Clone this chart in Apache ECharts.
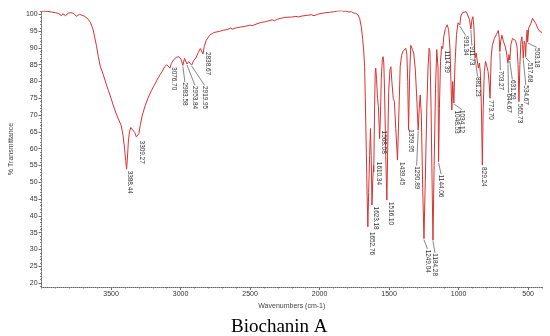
<!DOCTYPE html>
<html>
<head>
<meta charset="utf-8">
<script src="https://cdn.jsdelivr.net/npm/echarts@6/dist/echarts.min.js"></script>
<style>
html,body{margin:0;padding:0;background:#fff;}
#chart{width:550px;height:336px;}
</style>
</head>
<body>
<div id="chart"></div>
<script>
// Spectrum: wavenumber (cm-1) and % transmittance
const wavenumbers = [4000,3960,3930,3900,3880,3866,3856,3848,3836,3828,3818,3806,3790,3770,3756,3749,3740,3728,3713,3699,3690,3678,3663,3649,3638,3628,3617,3606,3592,3578,3556,3538,3520,3500,3485,3465,3449,3428,3414,3403,3395,3388.44,3382,3376,3368,3358,3345,3330,3318,3309.27,3300,3290,3275,3255,3235,3210,3190,3165,3145,3130,3115,3100,3088,3076.70,3066,3050,3030,3012,2997,2983.58,2972,2962,2953.84,2942,2930,2919.95,2905,2890,2872,2858,2847,2838.67,2830,2815,2790,2760,2723,2690,2660,2640,2625,2607,2570,2530,2500,2485,2450,2420,2390,2366,2340,2325,2300,2250,2200,2170,2150,2128,2090,2060,2040,2009,1970,1930,1893,1870,1860,1842,1825,1810,1790,1771,1755,1740,1723,1712,1700,1690,1683,1676,1671,1664,1658,1652.76,1647,1640,1634,1629,1623.18,1617,1612,1610.34,1605,1600,1596,1590,1583,1577,1568.08,1562,1556,1549,1543,1538,1532,1524,1516.10,1510,1503,1494,1487,1480,1470,1462,1452,1439.45,1430,1420,1410,1400,1390,1380,1372,1366,1359.95,1352,1344,1335,1323,1312,1302,1290.89,1283,1276,1268,1258,1249.04,1240,1228,1220,1212,1206,1198,1190,1184.28,1176,1166,1157,1152,1148,1144.06,1138,1130,1122,1114.39,1106,1095,1082,1072,1062,1055,1048.53,1042,1034.12,1026,1015,1004,998,991.34,984,972,958,945,932,922,916,911.73,905,897,890,884,881.23,874,866,858,850,842,835,829.24,823,815,806,797,788,780,773.70,766,757,743,728,714,708,703.27,697,688,678,665,655,648,644.67,638,631.59,624,612,600,590,580,572,565.73,559,552,545,540,534.67,528,522,517.68,512,507,503.18,495,480,468,458,445,430,415,400];
const transmittance = [101.0,100.9,100.7,100.5,100.3,100.0,99.6,100.2,100.1,99.6,100.1,100.4,100.5,100.3,100.1,99.4,99.9,100.0,99.8,99.6,99.4,99.1,98.5,97.6,96.5,95.2,93.0,90.8,87.5,84.6,82.0,79.6,77.4,75.0,73.0,70.6,69.0,67.0,64.0,60.0,56.5,53.9,57.5,62.0,65.0,66.3,66.0,64.8,63.5,63.0,64.5,67.0,70.0,72.8,75.0,77.3,78.8,80.8,82.2,83.2,84.4,85.0,84.8,84.0,85.4,86.5,87.2,87.4,86.6,84.8,86.9,86.4,85.2,85.9,85.7,84.9,86.3,87.0,88.7,89.8,89.4,88.2,90.4,92.3,93.8,94.6,94.9,95.3,95.5,95.9,95.6,95.9,96.2,96.5,96.8,96.6,97.2,97.6,97.8,98.1,98.4,98.1,98.6,99.1,99.2,99.4,99.2,99.5,99.7,99.9,99.6,100.1,100.4,100.6,100.8,101.0,100.7,101.1,100.9,101.0,100.7,100.8,100.4,100.3,99.8,98.8,96.3,92.5,89.4,84.4,74.5,59.6,46.0,36.7,47.0,58.0,66.0,58.0,43.2,51.0,55.0,53.1,70.0,82.5,84.0,80.5,75.0,72.5,63.0,70.0,81.0,86.5,87.4,85.5,76.0,58.0,44.7,60.0,77.0,83.5,84.4,80.0,75.0,74.0,66.0,56.6,70.0,84.5,87.8,89.0,89.5,89.9,88.0,80.0,65.5,82.0,90.8,90.3,88.5,84.0,76.0,65.5,72.0,76.0,70.0,48.0,33.2,50.0,73.0,84.0,89.9,89.0,72.0,48.0,32.7,55.0,78.0,89.5,89.9,84.0,56.1,72.0,86.0,90.5,89.8,93.5,95.8,96.9,95.5,90.0,80.0,71.5,80.0,73.6,85.0,94.0,97.5,98.0,96.8,99.5,100.5,100.9,100.8,100.3,98.5,96.8,95.6,98.2,99.3,96.5,89.0,87.0,88.5,88.0,84.0,85.5,82.0,70.0,55.1,72.0,83.0,86.0,85.5,83.0,79.5,75.0,87.0,90.8,92.8,94.0,95.2,93.0,88.9,92.0,93.8,92.0,90.5,88.5,86.0,85.4,88.0,86.4,91.0,92.8,93.3,92.2,90.5,85.0,74.0,85.0,91.8,93.3,91.0,86.9,92.0,91.0,87.4,93.0,95.3,91.8,96.0,97.3,98.8,98.4,97.3,95.8,94.9,94.6];

// Labelled peaks
const peakWavenumbers = [3388.44,3309.27,3076.70,2983.58,2953.84,2919.95,2838.67,1652.76,1623.18,1610.34,1568.08,1516.10,1439.45,1359.95,1290.89,1249.04,1184.28,1144.06,1114.39,1048.53,1034.12,991.34,911.73,881.23,829.24,773.70,703.27,644.67,631.59,565.73,534.67,517.68,503.18];
const peakLabels = ["3388.44","3309.27","3076.70","2983.58","2953.84","2919.95","2838.67","1652.76","1623.18","1610.34","1568.08","1516.10","1439.45","1359.95","1290.89","1249.04","1184.28","1144.06","1114.39","1048.53","1034.12","991.34","911.73","881.23","829.24","773.70","703.27","644.67","631.59","565.73","534.67","517.68","503.18"];

// Axis tick labels
const xTickLabels = [3500,3000,2500,2000,1500,1000,500];
const yTickLabels = [20,25,30,35,40,45,50,55,60,65,70,75,80,85,90,95,100];

// layout: pixel offset from the peak to the label start [dx, dy]
const labelOffsets = [[3,1.5],[4.5,2],[4,-1],[2,17],[8,22],[13,21],[5,-2],[3.5,5],[3.5,1.5],[5,-10],[4.3,-8],[4.3,2],[4.5,2],[1.8,-1],[-1.5,36],[3.5,11],[2,13],[2.5,13],[4,2],[4.5,0.5],[8,7],[6,11],[1,17],[2.5,19],[1,2],[0.5,2],[0.5,19],[0.5,30],[2.5,20],[1,2],[2.5,27],[4.5,6],[9,6]];

const peakTransmittance = peakWavenumbers.map(w => transmittance[wavenumbers.indexOf(w)]);
const spectrum = wavenumbers.map((w, i) => [w, transmittance[i]]);
const peaks = peakWavenumbers.map((w, i) => [w, peakTransmittance[i]]);
const xMinorTicks = []; for (let v = 400; v <= 4000; v += 100) xMinorTicks.push(v);
const yMinorTicks = []; for (let v = 19; v <= 101; v += 1) yMinorTicks.push(v);

const FONT = 'Liberation Sans, Arial, sans-serif';
const plain = v => String(v);
const chart = echarts.init(document.getElementById('chart'), null, {renderer: 'canvas'});
chart.setOption({
  animation: false,
  backgroundColor: '#fff',
  title: {
    text: 'Biochanin A', left: 226, top: 313,
    textStyle: {fontFamily: 'Liberation Serif, Times New Roman, serif', fontSize: 19, fontWeight: 'normal', color: '#000'}
  },
  grid: {left: 37, right: 8, top: 11, bottom: 49, containLabel: false},
  xAxis: [{
    type: 'value', min: 400, max: 4000, inverse: true,
    name: 'Wavenumbers (cm-1)', nameLocation: 'middle', nameGap: 16,
    nameTextStyle: {fontSize: 7, color: '#444', fontFamily: FONT},
    axisLine: {onZero: false, lineStyle: {color: '#666', width: 1, type: 'dotted'}},
    axisTick: {customValues: xTickLabels, length: 3, lineStyle: {color: '#666'}},
    axisLabel: {customValues: xTickLabels, formatter: plain, fontSize: 7, color: '#333', margin: 4, fontFamily: FONT},
    splitLine: {show: false}
  }, {
    type: 'value', min: 400, max: 4000, inverse: true, position: 'bottom', gridIndex: 0,
    axisLine: {show: false},
    axisTick: {customValues: xMinorTicks, length: 1.5, lineStyle: {color: '#777'}},
    axisLabel: {show: false}, splitLine: {show: false}
  }],
  yAxis: [{
    type: 'value', min: 18.8, max: 101,
    name: '% Transmittance', nameLocation: 'middle', nameGap: 24,
    nameTextStyle: {fontSize: 7, color: '#444', fontFamily: FONT},
    axisLine: {onZero: false, lineStyle: {color: '#666', width: 1, type: 'dotted'}},
    axisTick: {customValues: yTickLabels, length: 3, lineStyle: {color: '#666'}},
    axisLabel: {customValues: yTickLabels, formatter: plain, fontSize: 7, color: '#333', margin: 4, fontFamily: FONT},
    splitLine: {show: false}
  }, {
    type: 'value', min: 18.8, max: 101, position: 'left',
    axisLine: {show: false},
    axisTick: {customValues: yMinorTicks, length: 1.5, lineStyle: {color: '#777'}},
    axisLabel: {show: false}, splitLine: {show: false}
  }],
  series: [{
    type: 'line', data: spectrum, showSymbol: false, symbol: 'none',
    lineStyle: {color: '#d63333', width: 1}, z: 2
  }, {
    type: 'custom', data: peaks, z: 3,
    encode: {x: 0, y: 1},
    renderItem: function (params, api) {
      const i = params.dataIndex;
      const p = api.coord([api.value(0), api.value(1)]);
      const off = labelOffsets[i];
      const tx = p[0] + off[0], ty = p[1] + off[1];
      const children = [];
      if (off[1] > 5) {
        children.push({type: 'line', shape: {x1: p[0], y1: p[1] + 1, x2: tx, y2: ty - 0.5},
          style: {stroke: '#666', lineWidth: 0.8}});
      }
      children.push({type: 'text', x: tx, y: ty, rotation: -Math.PI / 2,
        style: {text: peakLabels[i], fill: '#333', fontSize: 6.4, fontFamily: FONT, align: 'left', verticalAlign: 'middle'}});
      return {type: 'group', children: children};
    }
  }]
});
</script>
</body>
</html>
